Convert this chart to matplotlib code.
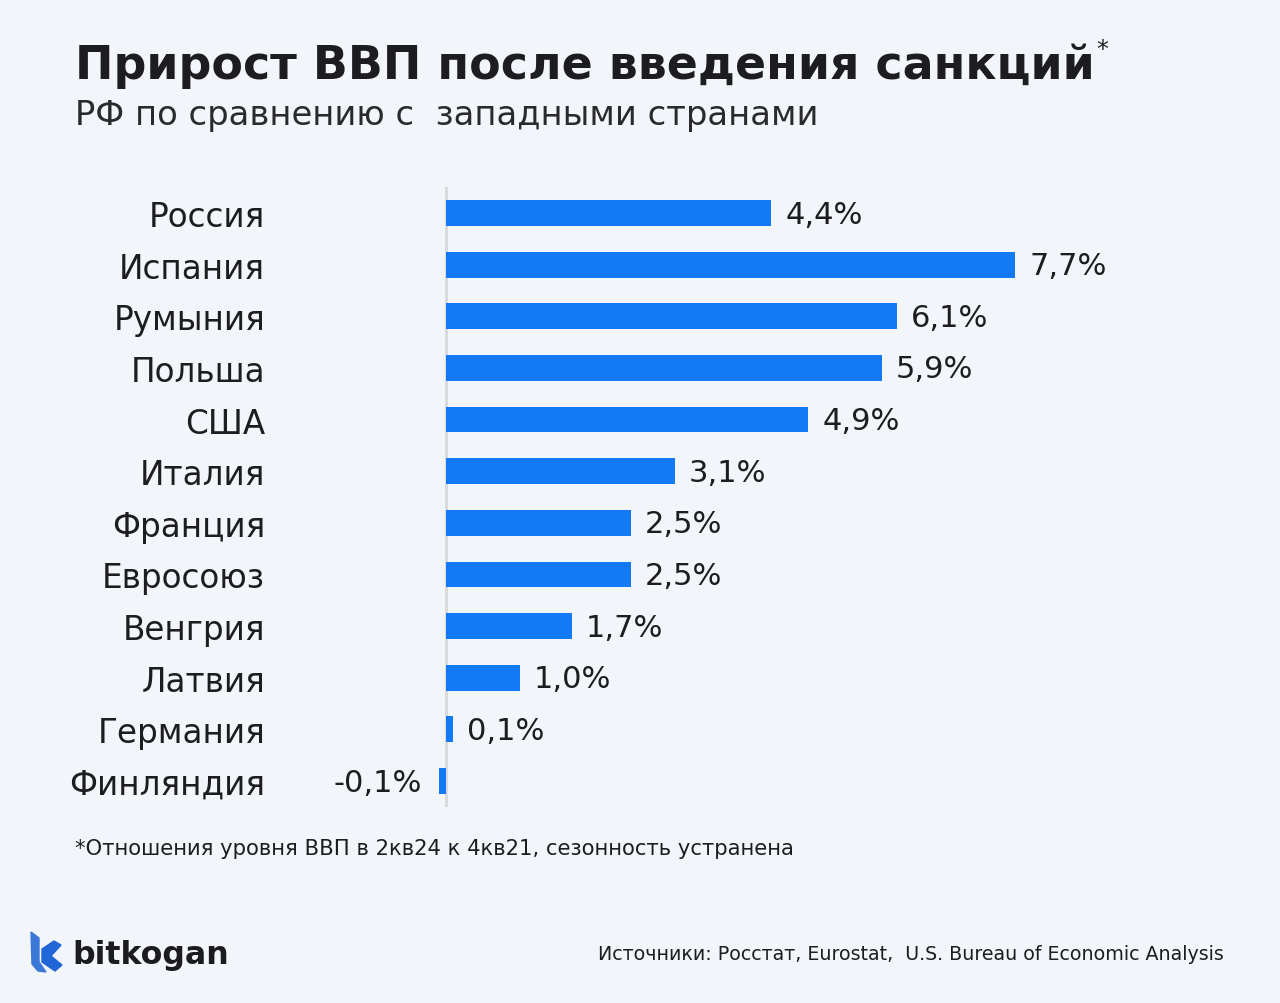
import numpy as np
import matplotlib.pyplot as plt
from matplotlib.patches import Polygon

#============================================
# data
#============================================
countries = ['Россия', 'Испания', 'Румыния', 'Польша', 'США', 'Италия',
             'Франция', 'Евросоюз', 'Венгрия', 'Латвия', 'Германия', 'Финляндия']
growth = [4.4, 7.7, 6.1, 5.9, 4.9, 3.1, 2.5, 2.5, 1.7, 1.0, 0.1, -0.1]

title = 'Прирост ВВП после введения санкций'
subtitle = 'РФ по сравнению с  западными странами'
note = '*Отношения уровня ВВП в 2кв24 к 4кв21, сезонность устранена'
source = 'Источники: Росстат, Eurostat,  U.S. Bureau of Economic Analysis'

bg = '#f2f5f9'
blue = '#1479f5'
ink = '#1d1d1f'

plt.rcParams['font.family'] = ['DejaVu Sans']

fig = plt.figure(figsize=(12.8, 10.04), dpi=100, facecolor=bg)
ax = fig.add_axes([372/1280, 0.1954, 813/1280, 0.6171])
ax.set_facecolor(bg)

y = np.arange(len(countries))
ax.barh(y, growth, height=0.5, color=blue, zorder=3)
ax.axvline(0, color='#d6d8dc', lw=2, zorder=2)
ax.set_xlim(-1.0, 10.0)
ax.set_ylim(len(countries) - 0.5, -0.5)

for yi, v in zip(y, growth):
    txt = f'{v:.1f}%'.replace('.', ',')
    if v >= 0:
        ax.text(v + 0.19, yi + 0.02, txt, ha='left', va='center',
                fontsize=22, color=ink)
    else:
        ax.text(v - 0.22, yi + 0.02, txt, ha='right', va='center',
                fontsize=22, color=ink)

ax.set_yticks(y)
ax.set_yticklabels(countries, fontsize=23.5, color=ink)
ax.tick_params(axis='y', length=0, pad=77)
ax.set_xticks([])
for s in ax.spines.values():
    s.set_visible(False)

# titles
t = fig.text(75/1280, 1 - 66/1004, title, fontsize=33, fontweight='bold',
             color=ink, va='center', ha='left')
fig.canvas.draw()
bb = t.get_window_extent(fig.canvas.get_renderer())
fig.text(bb.x1/1280 + 2/1280, 1 - 50/1004, '*', fontsize=17, color=ink,
         va='center', ha='left')
fig.text(75/1280, 1 - 115/1004, subtitle, fontsize=24.3, color='#2a2a2e',
         va='center', ha='left')

# footnote & source
fig.text(75/1280, 1 - 849/1004, note, fontsize=15.2, color=ink,
         va='center', ha='left')
fig.text(1224/1280, 1 - 955/1004, source, fontsize=13.7, color=ink,
         va='center', ha='right')

# logo
W, H = 1280, 1004
def px(pts):
    return [(x/W, 1 - yy/H) for x, yy in pts]
fig.patches.append(Polygon(px([(31, 933), (39, 939), (39, 963), (46, 973), (38, 972),
                               (32, 965)]),
                           closed=True, transform=fig.transFigure, color='#3a78d8'))
fig.patches.append(Polygon(px([(42, 950), (54, 942), (61, 946), (51, 957), (62, 966),
                               (55, 972), (42, 963)]),
                           closed=True, transform=fig.transFigure, color='#2166d6'))
fig.text(72/1280, 1 - 956/1004, 'bitkogan', fontsize=22.8, fontweight='bold',
         color='#1c1c1e', va='center', ha='left')

fig.savefig('out.png', dpi=100, facecolor=bg)
